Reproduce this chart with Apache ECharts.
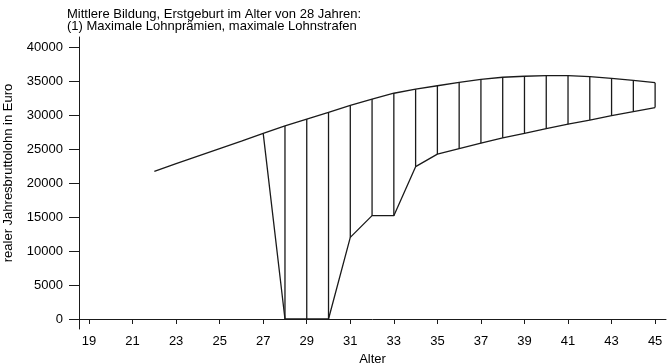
<!DOCTYPE html>
<html>
<head>
<meta charset="utf-8">
<script src="https://cdn.jsdelivr.net/npm/echarts@6/dist/echarts.min.js"></script>
<style>
    html, body { margin: 0; padding: 0; background: #fff; }
    #chart { width: 667px; height: 364px; }
</style>
</head>
<body>
<div id="chart"></div>
<script>
// Alter der oberen Linie (ohne Kind) und Werte
var upperAges = [22, 23, 24, 25, 26, 27, 28, 29, 30, 31, 32, 33, 34, 35, 36, 37, 38, 39, 40, 41, 42, 43, 44, 45];
var upperValues = [21700, 22850, 23950, 25050, 26150, 27300, 28400, 29400, 30400, 31400, 32350, 33200,
    33800, 34300, 34800, 35250, 35550, 35700, 35800, 35800, 35650, 35400, 35100, 34750];
// untere Linie (Erstgeburt mit 28)
var lowerAges = [27, 28, 29, 30, 31, 32, 33, 34, 35, 36, 37, 38, 39, 40, 41, 42, 43, 44, 45];
var lowerValues = [27300, 0, 0, 0, 12000, 15200, 15200, 22400, 24250, 25050, 25850, 26650,
    27300, 28000, 28650, 29250, 29900, 30500, 31100];
// Achsenbeschriftungen
var xTicks = [19, 21, 23, 25, 27, 29, 31, 33, 35, 37, 39, 41, 43, 45];
var yTicks = [0, 5000, 10000, 15000, 20000, 25000, 30000, 35000, 40000];

(function () {
    var myChart = echarts.init(document.getElementById('chart'));
    var ink = '#1a1a1a';
    var font = 'Liberation Sans, Arial, sans-serif';

    // Paare für die senkrechten Linien
    var upperLine = upperAges.map(function (a, i) { return [a, upperValues[i]]; });
    var lowerLine = lowerAges.map(function (a, i) { return [a, lowerValues[i]]; });
    var gaps = lowerAges.map(function (a, i) {
        return [a, lowerValues[i], upperValues[upperAges.indexOf(a)]];
    });

    var option = {
        animation: false,
        backgroundColor: '#fff',
        title: {
            text: 'Mittlere Bildung, Erstgeburt im Alter von 28 Jahren:\n(1) Maximale Lohnprämien, maximale Lohnstrafen',
            left: 62,
            top: 3,
            textStyle: {
                fontFamily: font,
                fontSize: 13,
                fontWeight: 'normal',
                color: '#000',
                lineHeight: 12
            }
        },
        grid: {
            left: 79,
            right: 1,
            top: 37,
            bottom: 35,
            outerBoundsMode: 'none'
        },
        xAxis: {
            type: 'value',
            min: 18.54,
            max: 45.5,
            name: 'Alter',
            nameLocation: 'middle',
            nameGap: 18,
            nameTextStyle: { fontFamily: font, fontSize: 13, color: '#000' },
            axisLine: { lineStyle: { color: ink, width: 1 } },
            axisTick: { customValues: xTicks, length: 5, lineStyle: { color: ink } },
            axisLabel: {
                customValues: xTicks,
                margin: 6,
                fontFamily: font,
                fontSize: 13,
                color: '#000'
            },
            splitLine: { show: false }
        },
        yAxis: {
            type: 'value',
            min: -1470,
            max: 41470,
            name: 'realer Jahresbruttolohn in Euro',
            nameLocation: 'middle',
            nameGap: 64,
            nameTextStyle: {
                fontFamily: font,
                fontSize: 13,
                color: '#000',
                padding: [0, 0, 0, 20]
            },
            axisLine: { show: true, lineStyle: { color: ink, width: 1 } },
            axisTick: { customValues: yTicks, length: 10, lineStyle: { color: ink } },
            axisLabel: {
                customValues: yTicks,
                margin: 16,
                fontFamily: font,
                fontSize: 13,
                color: '#000',
                formatter: function (v) { return String(v); }
            },
            splitLine: { show: false }
        },
        series: [{
            name: 'oben',
            type: 'line',
            data: upperLine,
            symbol: 'none',
            silent: true,
            lineStyle: { color: ink, width: 1.3 }
        }, {
            name: 'unten',
            type: 'line',
            data: lowerLine,
            symbol: 'none',
            silent: true,
            lineStyle: { color: ink, width: 1.3 }
        }, {
            // senkrechte Linien zwischen beiden Kurven
            name: 'Abstand',
            type: 'custom',
            data: gaps,
            silent: true,
            renderItem: function (params, api) {
                var p1 = api.coord([api.value(0), api.value(1)]);
                var p2 = api.coord([api.value(0), api.value(2)]);
                return {
                    type: 'line',
                    shape: { x1: p1[0], y1: p1[1], x2: p2[0], y2: p2[1] },
                    style: { stroke: ink, lineWidth: 1.3 }
                };
            }
        }]
    };
    myChart.setOption(option);
    window.addEventListener('resize', function () {
        myChart.resize();
    });
})();
</script>
</body>
</html>
